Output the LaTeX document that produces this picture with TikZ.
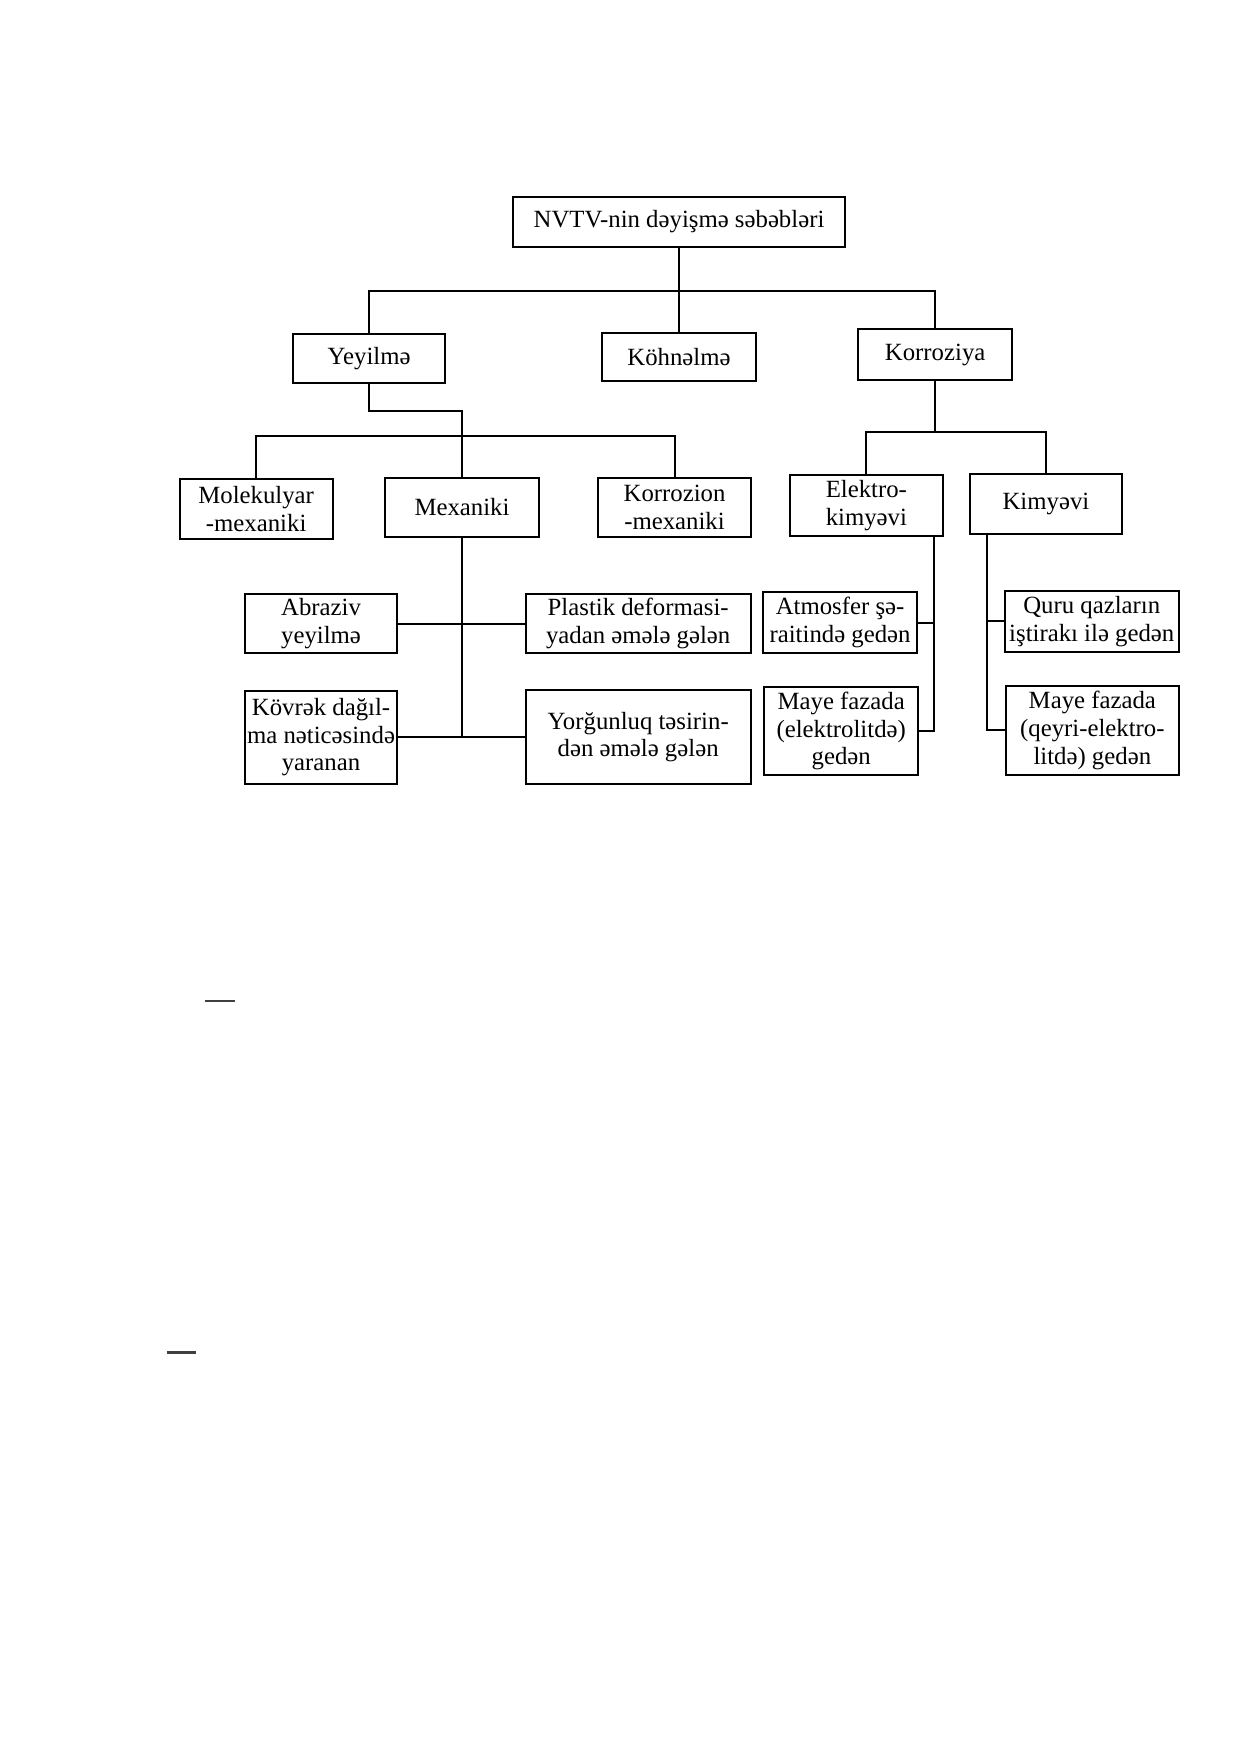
\documentclass[tikz,border=0pt]{standalone}
\usepackage{fontspec}
\setmainfont{Liberation Serif}
\begin{document}
\begin{tikzpicture}[x=0.56pt,y=0.56pt,yscale=-1,xscale=1,
  box/.style 2 args={draw,line width=1pt,align=center,inner sep=1pt,
    font=\fontsize{12.4}{13.8}\selectfont,
    minimum width=#1*0.56pt,minimum height=#2*0.56pt},
  wire/.style={line width=1pt}]
\useasboundingbox (0,0) rectangle (1108,1568);

% Text Node
\node[box={296}{45}] (causes) at (607,198.5) {NVTV-nin dəyişmə səbəbləri};
% Text Node
\node[box={136}{43}] (yey) at (330,320.5) {Yeyilmə};
\node[box={137}{43}] (koh) at (607,319.5) {Köhnəlmə};
\node[box={138}{46}] (korr) at (836,317) {Korroziya};
% Text Node
\node[box={137}{54}] (mol) at (229,455) {Molekulyar\\-mexaniki};
\node[box={138}{53}] (mex) at (413,453.5) {Mexaniki};
\node[box={136}{53}] (kmex) at (603,453.5) {Korrozion\\-mexaniki};
\node[box={137}{54}] (elek) at (774.5,452) {Elektro-\\kimyəvi};
\node[box={136}{53}] (kim) at (935,450.5) {Kimyəvi};
% Text Node
\node[box={136}{53}] (abr) at (287,557.5) {Abraziv\\yeyilmə};
\node[box={201}{53}] (plast) at (570.5,557.5) {Plastik deformasi-\\yadan əmələ gələn};
\node[box={138}{55}] (atm) at (751,556.5) {Atmosfer şə-\\raitində gedən};
\node[box={156}{55}] (quru) at (976,555.5) {Quru qazların\\iştirakı ilə gedən};
% Text Node
\node[box={136}{83}] (kov) at (287,659) {Kövrək dağıl-\\ma nəticəsində\\yaranan};
\node[box={201}{84}] (yor) at (570.5,659) {Yorğunluq təsirin-\\dən əmələ gələn};
\node[box={138}{79}] (mayeA) at (752,653.5) {Maye fazada\\(elektrolitdə)\\gedən};
\node[box={155}{80}] (mayeB) at (976.5,653) {Maye fazada\\(qeyri-elektro-\\litdə) gedən};

% Connection
\coordinate (bus1) at (607,260);
\draw[wire] (causes) -- (koh);
\draw[wire] (yey.north) |- (bus1) -| (korr.north);
% Connection
\coordinate (bend1) at (413,367);
\coordinate (bus2) at (413,390);
\draw[wire] (yey.south) |- (bend1) -- (mex.north);
\draw[wire] (mol.north) |- (bus2) -| (kmex.north);
% Connection
\coordinate (bus3) at (836,386);
\draw[wire] (korr.south) -- (bus3);
\draw[wire] (elek.north) |- (bus3) -| (kim.north);
% Connection
\draw[wire] (mex.south) -- (mex.south |- kov.east);
\draw[wire] (abr) -- (plast);
\draw[wire] (kov) -- (yor);
% Connection
\coordinate (e1) at ([xshift=-5pt]elek.south east);
\draw[wire] (e1) |- (mayeA.east);
\draw[wire] (atm.east) -- (atm.east -| e1);
% Connection
\coordinate (k1) at ([xshift=9pt]kim.south west);
\draw[wire] (k1) |- (mayeB.west);
\draw[wire] (quru.west) -- (quru.west -| k1);

% stray marks
\draw[line width=1.2pt,black!75] (183,895) -- (210,895);
\draw[line width=1.2pt,black!75] (149,1209) -- (175,1209);
\end{tikzpicture}
\end{document}
